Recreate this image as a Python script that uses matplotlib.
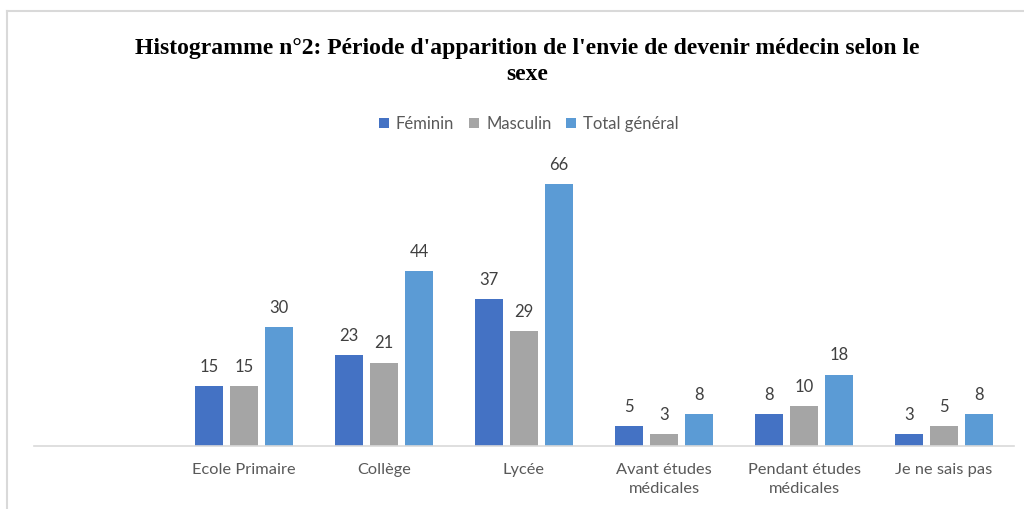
import numpy as np
import matplotlib.pyplot as plt
from matplotlib.lines import Line2D

categories = ["Ecole Primaire", "Collège", "Lycée", "Avant études\nmédicales",
              "Pendant études\nmédicales", "Je ne sais pas"]
feminin = [15, 23, 37, 5, 8, 3]
masculin = [15, 21, 29, 3, 10, 5]
total = [30, 44, 66, 8, 18, 8]
series_names = ["Féminin", "Masculin", "Total général"]

BLUE = "#4472C4"; GREY = "#A5A5A5"; LBLUE = "#5B9BD5"
TXT = "#595959"; LAB = "#404040"; LINE = "#D9D9D9"

plt.rcParams["font.family"] = ["Lato", "DejaVu Sans"]

fig = plt.figure(figsize=(10.24, 5.09), dpi=100)
ax = fig.add_axes([34/1024, 63/509, 980/1024, 278/509])

# first slot on the left stays empty, as in the original
x = np.arange(1, len(categories) + 1)
w = 0.2
off = 0.25
for vals, col, name, dx in zip([feminin, masculin, total], [BLUE, GREY, LBLUE],
                               series_names, [-off, 0, off]):
    bars = ax.bar(x + dx, vals, width=w, color=col, label=name, zorder=2)
    ax.bar_label(bars, labels=[str(v) for v in vals], padding=8,
                 fontsize=12, color=LAB)

ax.set_xlim(-0.5, len(categories) + 0.5)
ax.set_ylim(0, 70)
ax.set_xticks(x)
ax.set_xticklabels(categories, fontsize=11.8, color=TXT, linespacing=1.5)
ax.tick_params(axis="x", length=0, pad=12)
ax.set_yticks([])
for s in ["top", "right", "left"]:
    ax.spines[s].set_visible(False)
ax.spines["bottom"].set_color(LINE)
ax.spines["bottom"].set_linewidth(1.2)

fig.text(0.515, 1 - 61.5/509, "Histogramme n°2: Période d'apparition de l'envie de devenir médecin selon le\nsexe",
         ha="center", va="center", fontsize=17, fontweight="bold",
         family="Liberation Serif", color="black", linespacing=1.27)

fig.legend(loc="center", bbox_to_anchor=(529/1024, 1 - 124/509), ncol=3, frameon=False,
           fontsize=12, labelcolor=TXT, handlelength=0.6, handleheight=0.6,
           handletextpad=0.4, columnspacing=0.9)

# chart frame (partly cropped in the original)
fig.add_artist(Line2D([7/1024, 1], [1 - 11/509, 1 - 11/509], color=LINE, lw=1.5))
fig.add_artist(Line2D([7/1024, 7/1024], [0, 1 - 11/509], color=LINE, lw=1.5))

fig.savefig("out.png", dpi=100, facecolor="white")
